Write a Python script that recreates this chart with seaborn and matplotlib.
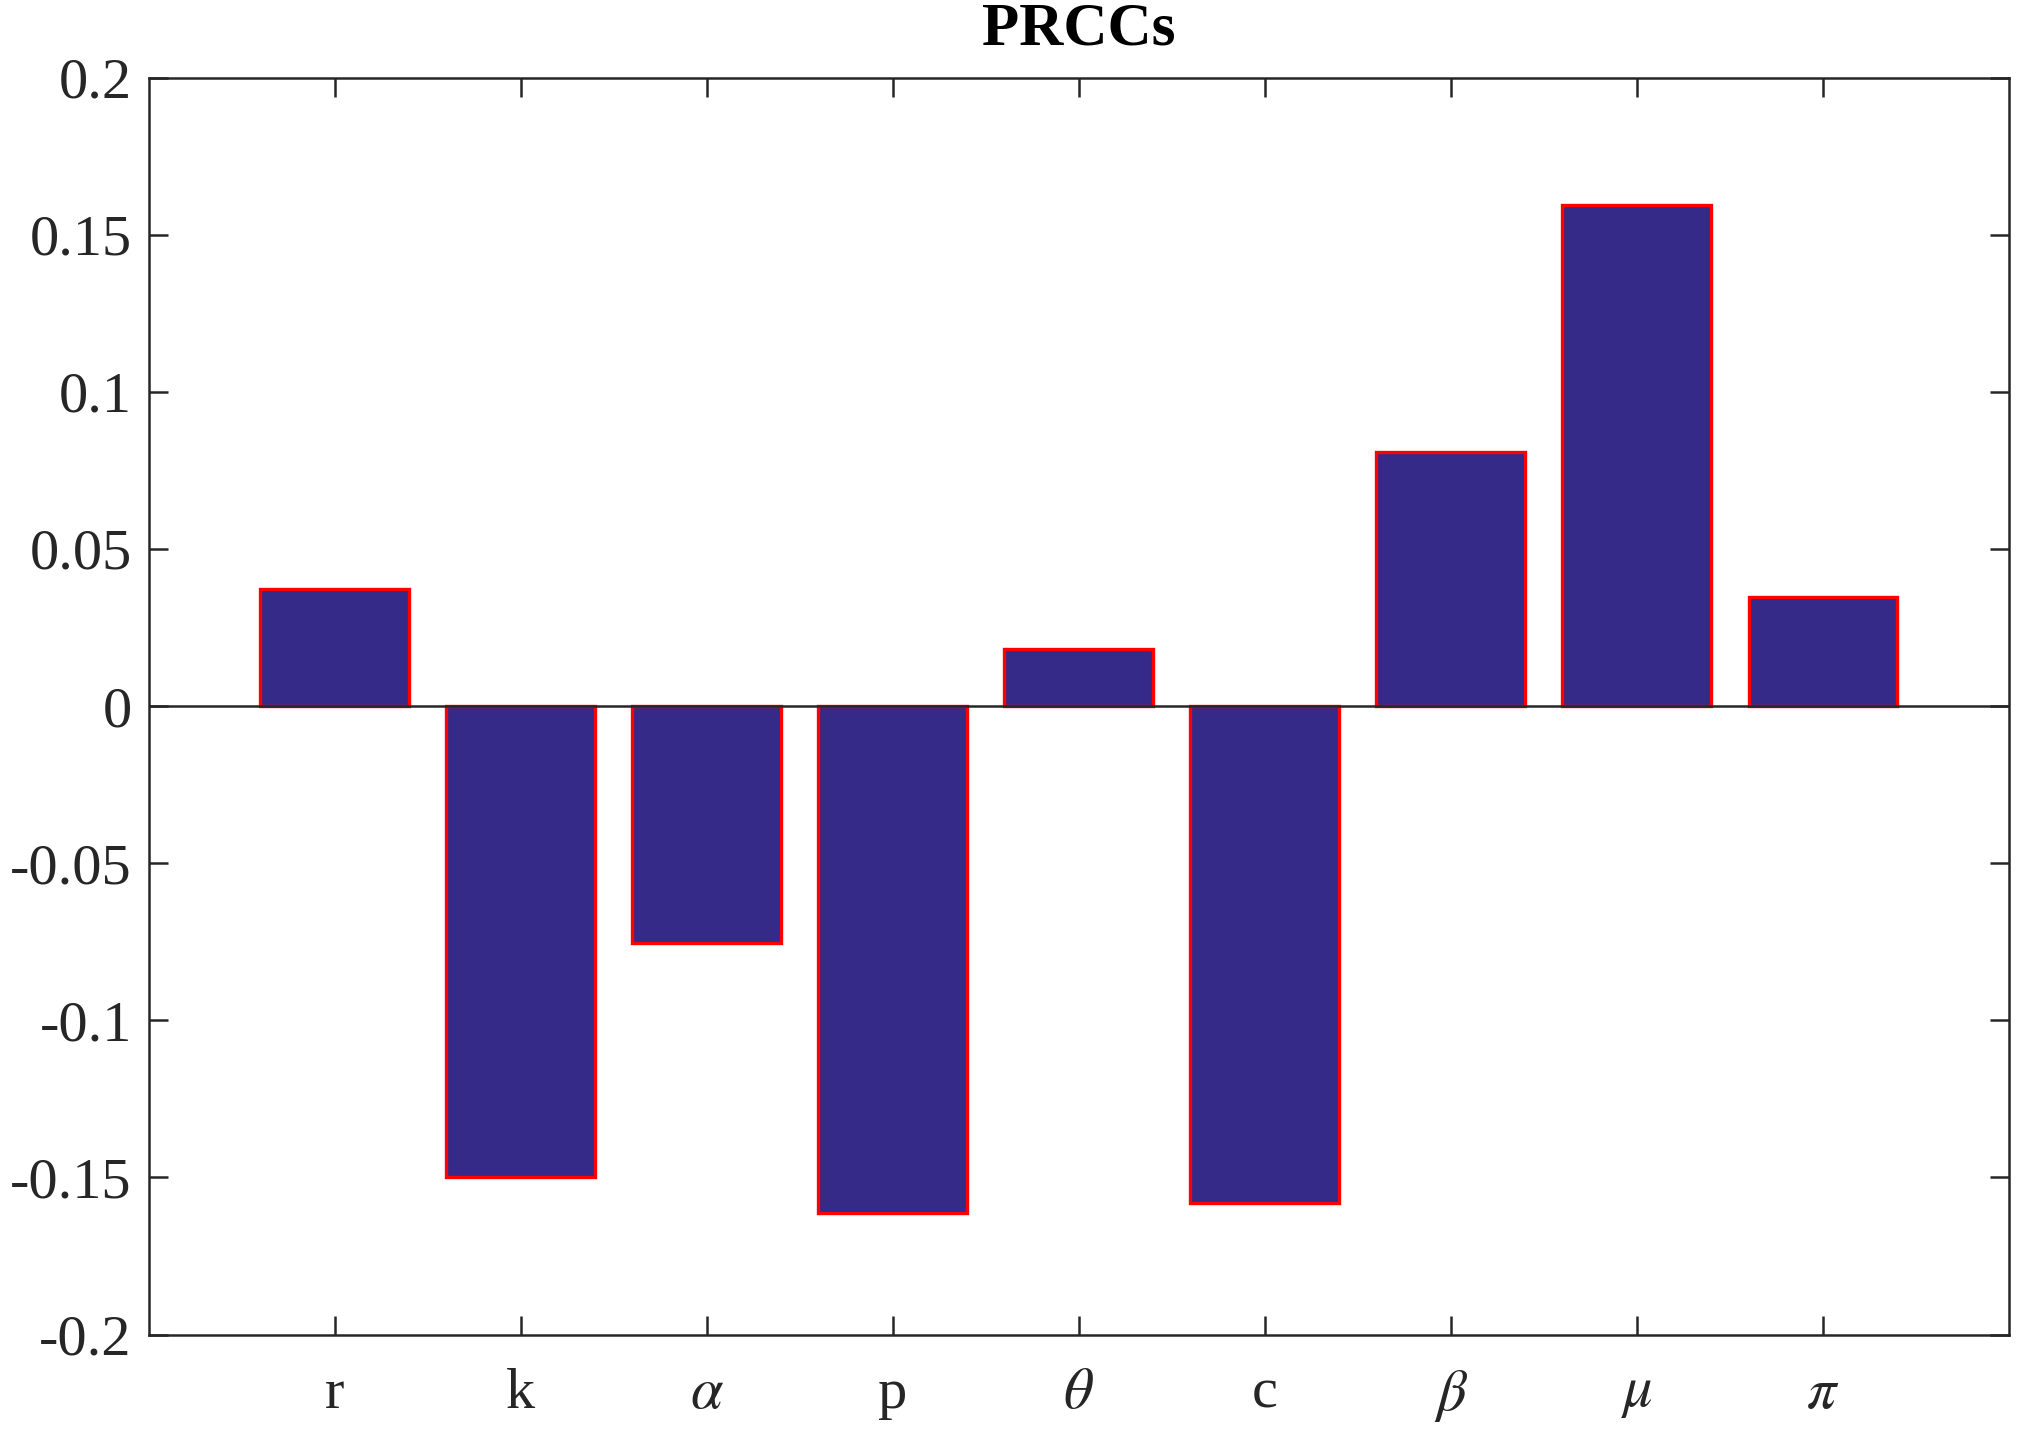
import pandas as pd
import numpy as np
import matplotlib
matplotlib.use("Agg")
import matplotlib.pyplot as plt
import seaborn as sns

# ----------------------------
# DATA
# ----------------------------
params = ["r", "k", r"$\alpha$", "p", r"$\theta$", "c", r"$\beta$", r"$\mu$", r"$\pi$"]
prcc = [0.0372, -0.1498, -0.0754, -0.1614, 0.0183, -0.1580, 0.0808, 0.1593, 0.0347]
yticks = [-0.2, -0.15, -0.1, -0.05, 0, 0.05, 0.1, 0.15, 0.2]
ytick_labels = ["-0.2", "-0.15", "-0.1", "-0.05", "0", "0.05", "0.1", "0.15", "0.2"]

df = pd.DataFrame({"param": params, "prcc": prcc})

# ----------------------------
# STYLE
# ----------------------------
sns.set_style("ticks")
plt.rcParams["font.family"] = ["Liberation Serif", "DejaVu Serif"]
plt.rcParams["mathtext.fontset"] = "stix"

axcol = "#262626"

# ----------------------------
# PLOT
# ----------------------------
fig = plt.figure(figsize=(10.13, 7.15), dpi=200)
ax = fig.add_axes([0.0733, 0.0667, 0.9183, 0.8791])

sns.barplot(data=df, x="param", y="prcc", ax=ax, color="#352a87",
            saturation=1, edgecolor="#ff0000", linewidth=1.2, width=0.8, zorder=2)
ax.axhline(0, color=axcol, linewidth=0.9, zorder=3)

ax.set_xlim(-1, 9)
ax.set_ylim(-0.2, 0.2)
ax.set_yticks(yticks)
ax.set_yticklabels(ytick_labels)
ax.set_xlabel("")
ax.set_ylabel("")
ax.set_title("PRCCs", fontsize=22, fontweight="bold", color="black", pad=12)

for s in ax.spines.values():
    s.set_visible(True)
    s.set_color(axcol)
    s.set_linewidth(0.9)
ax.tick_params(direction="in", length=7, width=0.9, colors=axcol,
               labelsize=21, top=True, right=True, labelcolor=axcol)
ax.tick_params(axis="y", pad=6)
ax.tick_params(axis="x", pad=12)

fig.savefig("out.png", dpi=200)
